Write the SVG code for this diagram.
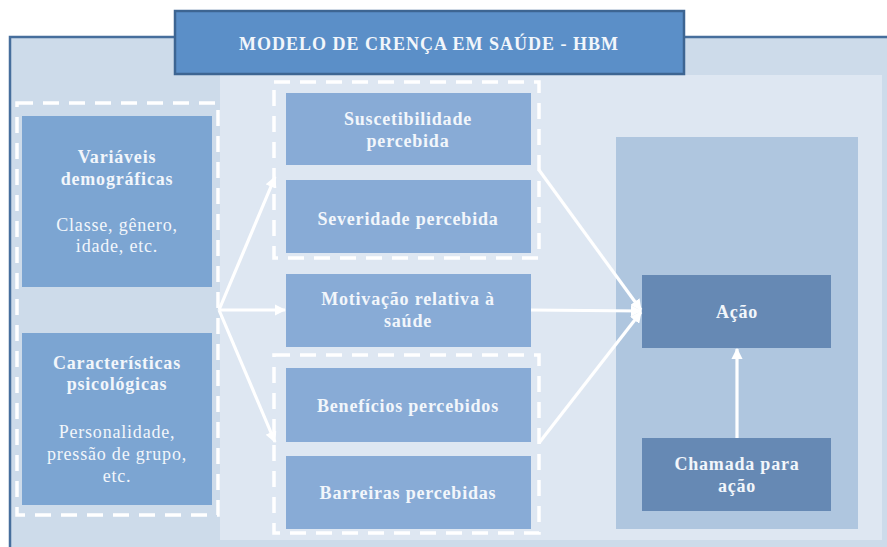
<svg xmlns="http://www.w3.org/2000/svg" width="887" height="547" viewBox="0 0 887 547">
<defs>
<style>
text{font-family:'Liberation Serif','Times New Roman',serif;fill:#f2f6fb;text-anchor:middle;font-size:18px;letter-spacing:0.8px}
.b{font-weight:bold}
.box{fill:#7ca5d2}
.mid{fill:#88abd6}
.dk{fill:#6689b4}
.dash{fill:none;stroke:#ffffff;stroke-width:3.5;stroke-dasharray:16 10}
.ar{stroke:#ffffff;stroke-width:3.2;fill:none;marker-end:url(#ah)}
</style>
<marker id="ah" viewBox="0 0 10 10" refX="9" refY="5" markerWidth="3.6" markerHeight="3.6" orient="auto" markerUnits="strokeWidth">
<path d="M0,0 L10,5 L0,10 z" fill="#ffffff"/>
</marker>
</defs>
<rect width="887" height="547" fill="#ffffff"/>
<g id="frame">
<rect x="10" y="37" width="890" height="520" fill="#cddbea" stroke="#466e9c" stroke-width="2.5"/>
<rect x="220" y="75" width="662" height="465" fill="#dee7f2"/>
<rect x="616" y="137" width="242" height="392" fill="#afc6df"/>
</g>
<g id="title">
<rect x="175" y="11" width="509" height="63" fill="#5b8fc8" stroke="#3d6592" stroke-width="2.5"/>
<text class="b" x="429" y="50" style="letter-spacing:1px">MODELO DE CRENÇA EM SAÚDE - HBM</text>
</g>
<g id="group-modifying">
<rect class="dash" x="17" y="103" width="201" height="412"/>
</g>
<g id="group-threat">
<rect class="dash" x="274" y="82" width="265" height="176"/>
</g>
<g id="group-expectations">
<rect class="dash" x="274" y="355" width="265" height="178"/>
</g>
<g id="variaveis">
<rect class="box" x="22" y="116" width="190" height="171"/>
<text class="b" x="117" y="163">Variáveis</text>
<text class="b" x="117" y="185">demográficas</text>
<text x="117" y="231">Classe, gênero,</text>
<text x="117" y="252">idade, etc.</text>
</g>
<g id="caracteristicas">
<rect class="box" x="22" y="333" width="190" height="172"/>
<text class="b" x="117" y="369">Características</text>
<text class="b" x="117" y="390">psicológicas</text>
<text x="117" y="438">Personalidade,</text>
<text x="117" y="460">pressão de grupo,</text>
<text x="117" y="482">etc.</text>
</g>
<g id="suscetibilidade">
<rect class="mid" x="286" y="93" width="245" height="72"/>
<text class="b" x="408" y="125">Suscetibilidade</text>
<text class="b" x="408" y="147">percebida</text>
</g>
<g id="severidade">
<rect class="mid" x="286" y="180" width="245" height="73"/>
<text class="b" x="408" y="225">Severidade percebida</text>
</g>
<g id="motivacao">
<rect class="mid" x="286" y="274" width="245" height="73"/>
<text class="b" x="408" y="305">Motivação relativa à</text>
<text class="b" x="408" y="327">saúde</text>
</g>
<g id="beneficios">
<rect class="mid" x="286" y="368" width="245" height="74"/>
<text class="b" x="408" y="412">Benefícios percebidos</text>
</g>
<g id="barreiras">
<rect class="mid" x="286" y="456" width="245" height="73"/>
<text class="b" x="408" y="499">Barreiras percebidas</text>
</g>
<g id="acao">
<rect class="dk" x="642" y="275" width="189" height="73"/>
<text class="b" x="737" y="318">Ação</text>
</g>
<g id="chamada">
<rect class="dk" x="642" y="438" width="189" height="73"/>
<text class="b" x="737" y="470">Chamada para</text>
<text class="b" x="737" y="492">ação</text>
</g>
<g id="connectors">
<line class="ar" x1="219" y1="310" x2="275" y2="177"/>
<line class="ar" x1="219" y1="310" x2="285" y2="310"/>
<line class="ar" x1="219" y1="310" x2="275" y2="442"/>
<line class="ar" x1="539" y1="170" x2="641" y2="310"/>
<line class="ar" x1="531" y1="310" x2="641" y2="311"/>
<line class="ar" x1="539" y1="443" x2="641" y2="312"/>
<line class="ar" x1="737" y1="438" x2="737" y2="349"/>
</g>
</svg>
